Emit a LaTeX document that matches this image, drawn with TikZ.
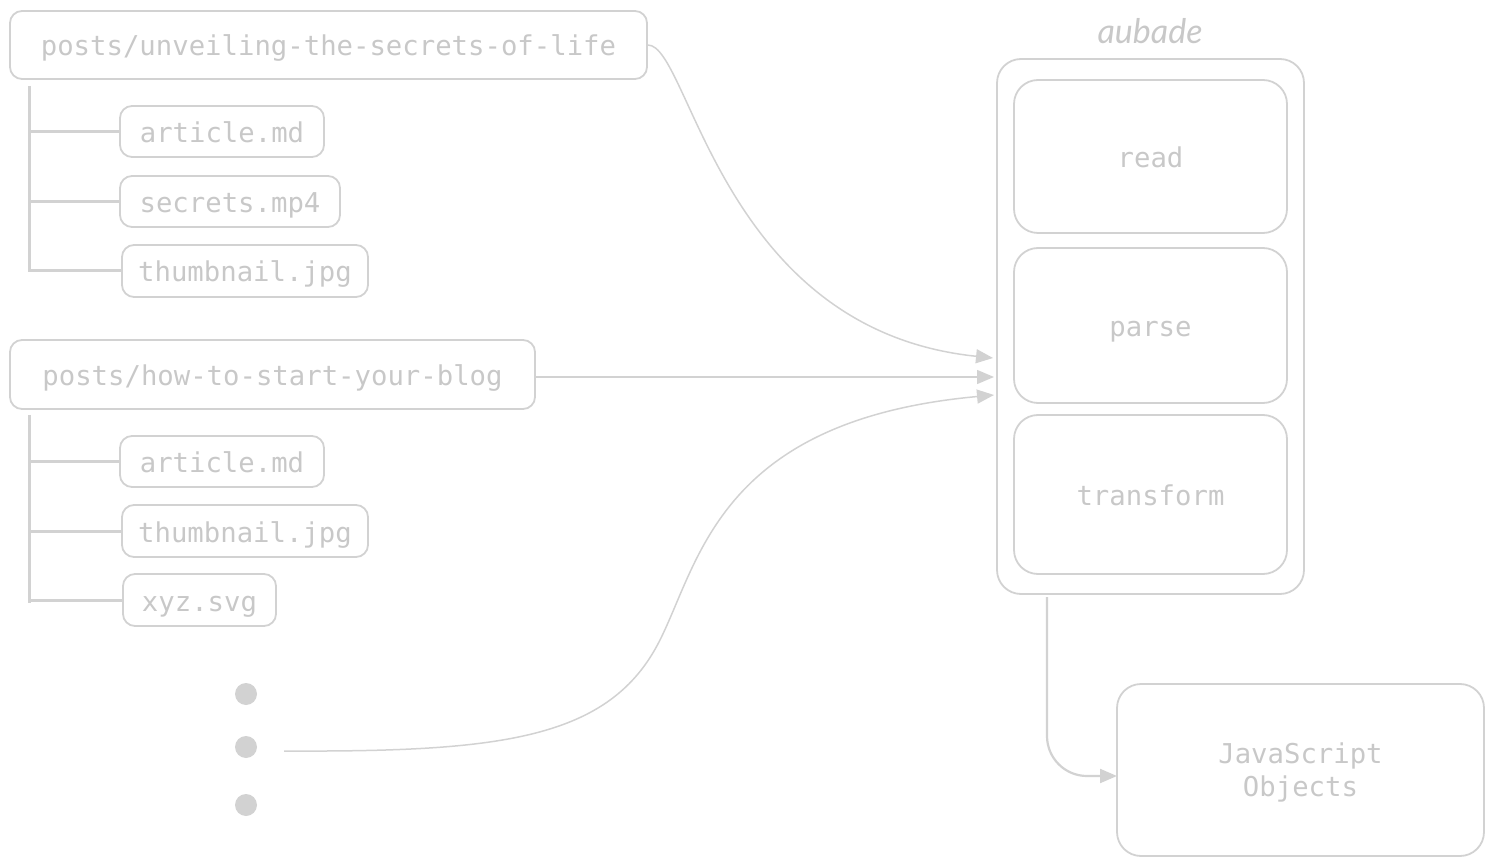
\documentclass[tikz,border=0pt]{standalone}
\usepackage{fontspec}
\setmonofont{DejaVu Sans Mono}
\newfontfamily\handfont{Lato}
\usetikzlibrary{arrows.meta}
\definecolor{linegray}{RGB}{210,210,210}
\definecolor{textgray}{RGB}{200,200,200}
\tikzset{
  plainbox/.style={draw=linegray, line width=1.8pt, rounded corners=12pt, text=textgray,
    font=\ttfamily\fontsize{27.3}{32.5}\selectfont, inner sep=0pt, align=center},
  box/.style={plainbox, text height=24pt, text depth=2pt},
  bigbox/.style={box, rounded corners=24pt},
  conn/.style={draw=linegray, line width=1.5pt, -{Triangle[length=17pt,width=14pt]}},
  treeline/.style={draw=linegray, line width=3pt},
  dotmark/.style={circle, fill=linegray, minimum size=22pt, inner sep=0pt}
}
\begin{document}
\begin{tikzpicture}[x=1pt,y=-1pt]
\useasboundingbox (0,0) rectangle (1494,866);
% first folder
\node[box, minimum width=637pt, minimum height=68pt] (p1) at (328.5,45) {posts/unveiling-the-secrets-of-life};
\node[box, minimum width=204pt, minimum height=51pt] (a1) at (222,131.5) {article.md};
\node[box, minimum width=220pt, minimum height=51pt] (s1) at (230,201.5) {secrets.mp4};
\node[box, minimum width=246pt, minimum height=52pt] (t1) at (245,271) {thumbnail.jpg};
\coordinate (trunk1top) at (29,86);
\coordinate (trunk1bot) at (29,272);
\draw[treeline] (trunk1top) -- (trunk1bot);
\draw[treeline] (a1.west -| trunk1top) -- (a1.west);
\draw[treeline] (s1.west -| trunk1top) -- (s1.west);
\draw[treeline] (t1.west -| trunk1top) -- (t1.west);
% second folder
\node[box, minimum width=525pt, minimum height=69pt] (p2) at (272.5,374.5) {posts/how-to-start-your-blog};
\node[box, minimum width=204pt, minimum height=51pt] (a2) at (222,461.5) {article.md};
\node[box, minimum width=246pt, minimum height=52pt] (t2) at (245,531) {thumbnail.jpg};
\node[box, minimum width=153pt, minimum height=52pt] (x2) at (199.5,600) {xyz.svg};
\coordinate (trunk2top) at (29,415);
\coordinate (trunk2bot) at (29,603);
\draw[treeline] (trunk2top) -- (trunk2bot);
\draw[treeline] (a2.west -| trunk2top) -- (a2.west);
\draw[treeline] (t2.west -| trunk2top) -- (t2.west);
\draw[treeline] (x2.west -| trunk2top) -- (x2.west);
% dots
\node[dotmark] (d1) at (246,694) {};
\node[dotmark] (d2) at (246,747) {};
\node[dotmark] (d3) at (246,805) {};
% aubade
\node[bigbox, minimum width=307pt, minimum height=535pt] (aub) at (1150.5,326.5) {};
\node[text=textgray, font=\handfont\itshape\fontsize{34}{40}\selectfont, inner sep=0pt] (aubtitle) at (1150,31) {aubade};
\node[bigbox, minimum width=273pt, minimum height=153pt] (read) at (1150.5,156.5) {read};
\node[bigbox, minimum width=273pt, minimum height=155pt] (parse) at (1150.5,325.5) {parse};
\node[bigbox, minimum width=273pt, minimum height=159pt] (transform) at (1150.5,494.5) {transform};
% output
\node[plainbox, rounded corners=24pt, minimum width=367pt, minimum height=172pt] (js) at (1300.5,770) {\rule{0pt}{26pt}JavaScript\\Objects};
% connectors
\coordinate (in1) at (993,358);
\coordinate (in2) at (994,377);
\coordinate (in3) at (994,395);
\coordinate (dotsout) at (284,751);
\coordinate (outstart) at (1047,597);
\coordinate (jsin) at (1117,776);
\draw[conn] (p1.east) .. controls (690,45) and (720,330) .. (in1);
\draw[conn] (p2.east |- in2) -- (in2);
\draw[conn] (dotsout) .. controls (500,752) and (610,740) .. (660,640) .. controls (700,560) and (720,420) .. (in3);
\draw[conn, line width=2.2pt, rounded corners=40pt] (outstart) |- (jsin);
\end{tikzpicture}
\end{document}
